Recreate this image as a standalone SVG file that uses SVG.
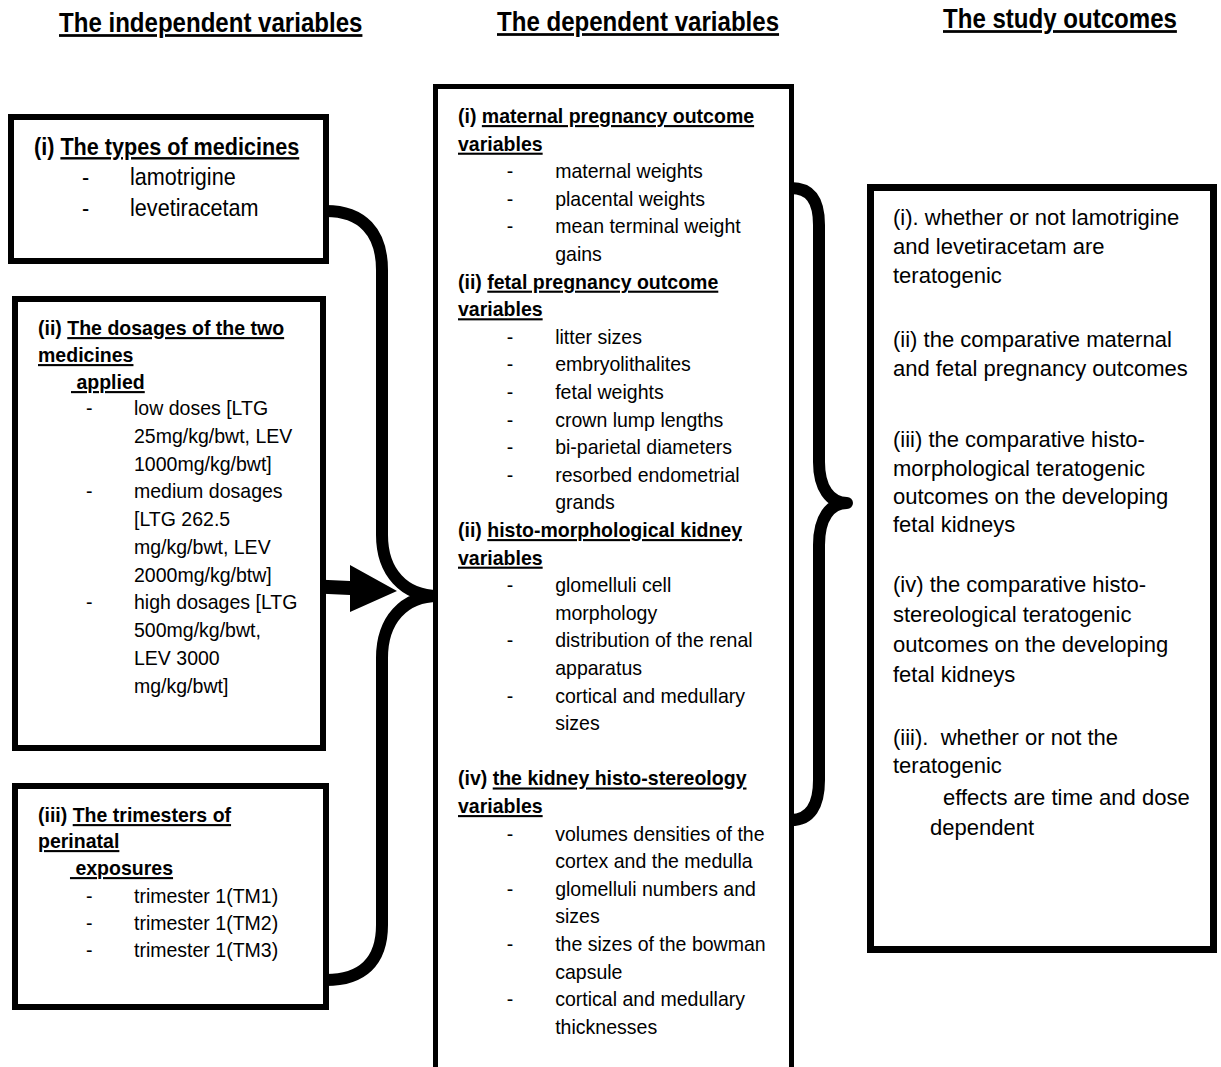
<svg xmlns="http://www.w3.org/2000/svg" width="1221" height="1067" viewBox="0 0 1221 1067">
<style>
text{font-family:"Liberation Sans",Arial,sans-serif;fill:#000}
.b{font-weight:bold}
.u{text-decoration:underline}
.title{font-size:27.5px;font-weight:bold;text-decoration:underline}
.f24{font-size:24px}
.f21{font-size:21px}
.f22{font-size:22px}
.box{fill:#fff;stroke:#000}
.brace{fill:none;stroke:#000;stroke-width:12;stroke-linejoin:round}
</style>
<rect width="1221" height="1067" fill="#fff"/>

<g id="titles">
<text class="title" transform="matrix(0.875 0 0 1 59 32)">The independent variables</text>
<text class="title" transform="matrix(0.875 0 0 1 497 31)">The dependent variables</text>
<text class="title" transform="matrix(0.875 0 0 1 943 28)">The study outcomes</text>
</g>

<g id="connectors">
<path class="brace" d="M326 211 C362 211 382 232 382 270 L382 535 C382 572 404 596 438 596 C404 596 382 620 382 658 L382 925 C382 962 362 980 326 980"/>
<path class="brace" d="M791 188 C810 188 819 200 819 225 L819 462 C819 488 830 503 847 503 C830 503 819 518 819 545 L819 780 C819 806 810 820 791 820"/>
<polygon points="306,579 350,581 350,565 397,591 350,612 350,595 306,593" fill="#000"/>
</g>

<g id="box-types">
<rect class="box" x="11" y="117" width="315" height="144" stroke-width="6"/>
<g transform="translate(34 0) scale(0.9 1)" class="f24">
<text x="0" y="155" class="b">(i) <tspan class="u">The types of medicines</tspan></text>
<text x="53.3" y="185">-</text><text x="106.7" y="185">lamotrigine</text>
<text x="53.3" y="216">-</text><text x="106.7" y="216">levetiracetam</text>
</g>
</g>

<g id="box-dosages">
<rect class="box" x="15" y="299" width="308" height="449" stroke-width="6"/>
<g transform="translate(38 0) scale(0.93 1)" class="f21">
<text x="0" y="335" class="b">(ii) <tspan class="u">The dosages of the two</tspan></text>
<text x="0" y="362" class="b u">medicines</text>
<text x="35.5" y="389" class="b u">&#160;applied</text>
<text x="51.6" y="415">-</text><text x="103.2" y="415">low doses [LTG</text>
<text x="103.2" y="443">25mg/kg/bwt, LEV</text>
<text x="103.2" y="471">1000mg/kg/bwt]</text>
<text x="51.6" y="498">-</text><text x="103.2" y="498">medium dosages</text>
<text x="103.2" y="526">[LTG 262.5</text>
<text x="103.2" y="554">mg/kg/bwt, LEV</text>
<text x="103.2" y="582">2000mg/kg/btw]</text>
<text x="51.6" y="609">-</text><text x="103.2" y="609">high dosages [LTG</text>
<text x="103.2" y="637">500mg/kg/bwt,</text>
<text x="103.2" y="665">LEV 3000</text>
<text x="103.2" y="693">mg/kg/bwt]</text>
</g>
</g>

<g id="box-trimesters">
<rect class="box" x="15" y="786" width="311" height="221" stroke-width="6"/>
<g transform="translate(38 0) scale(0.93 1)" class="f21">
<text x="0" y="822" class="b">(iii) <tspan class="u">The trimesters of</tspan></text>
<text x="0" y="848" class="b u">perinatal</text>
<text x="34.4" y="875" class="b u">&#160;exposures</text>
<text x="51.6" y="903">-</text><text x="103.2" y="903">trimester 1(TM1)</text>
<text x="51.6" y="930">-</text><text x="103.2" y="930">trimester 1(TM2)</text>
<text x="51.6" y="957">-</text><text x="103.2" y="957">trimester 1(TM3)</text>
</g>
</g>

<g id="box-dependent">
<rect class="box" x="435.5" y="86.5" width="356" height="990" stroke-width="5"/>
<g transform="translate(458 0) scale(0.93 1)" class="f21">
<text x="0" y="123" class="b">(i) <tspan class="u">maternal pregnancy outcome</tspan></text>
<text x="0" y="150.6" class="b u">variables</text>
<text x="52.5" y="178.2">-</text><text x="104.5" y="178.2">maternal weights</text>
<text x="52.5" y="205.8">-</text><text x="104.5" y="205.8">placental weights</text>
<text x="52.5" y="233.4">-</text><text x="104.5" y="233.4">mean terminal weight</text>
<text x="104.5" y="261">gains</text>
<text x="0" y="288.6" class="b">(ii) <tspan class="u">fetal pregnancy outcome</tspan></text>
<text x="0" y="316.2" class="b u">variables</text>
<text x="52.5" y="343.8">-</text><text x="104.5" y="343.8">litter sizes</text>
<text x="52.5" y="371.4">-</text><text x="104.5" y="371.4">embryolithalites</text>
<text x="52.5" y="399">-</text><text x="104.5" y="399">fetal weights</text>
<text x="52.5" y="426.6">-</text><text x="104.5" y="426.6">crown lump lengths</text>
<text x="52.5" y="454.2">-</text><text x="104.5" y="454.2">bi-parietal diameters</text>
<text x="52.5" y="481.8">-</text><text x="104.5" y="481.8">resorbed endometrial</text>
<text x="104.5" y="509.4">grands</text>
<text x="0" y="537" class="b">(ii) <tspan class="u">histo-morphological kidney</tspan></text>
<text x="0" y="564.6" class="b u">variables</text>
<text x="52.5" y="592.2">-</text><text x="104.5" y="592.2">glomelluli cell</text>
<text x="104.5" y="619.8">morphology</text>
<text x="52.5" y="647.4">-</text><text x="104.5" y="647.4">distribution of the renal</text>
<text x="104.5" y="675">apparatus</text>
<text x="52.5" y="702.6">-</text><text x="104.5" y="702.6">cortical and medullary</text>
<text x="104.5" y="730.2">sizes</text>
<text x="0" y="785.4" class="b">(iv) <tspan class="u">the kidney histo-stereology</tspan></text>
<text x="0" y="813" class="b u">variables</text>
<text x="52.5" y="840.6">-</text><text x="104.5" y="840.6">volumes densities of the</text>
<text x="104.5" y="868.2">cortex and the medulla</text>
<text x="52.5" y="895.8">-</text><text x="104.5" y="895.8">glomelluli numbers and</text>
<text x="104.5" y="923.4">sizes</text>
<text x="52.5" y="951">-</text><text x="104.5" y="951">the sizes of the bowman</text>
<text x="104.5" y="978.6">capsule</text>
<text x="52.5" y="1006.2">-</text><text x="104.5" y="1006.2">cortical and medullary</text>
<text x="104.5" y="1033.8">thicknesses</text>
</g>
</g>

<g id="box-outcomes">
<rect class="box" x="870.5" y="187.5" width="343" height="762" stroke-width="7"/>
<g class="f22">
<text x="893" y="225">(i). whether or not lamotrigine</text>
<text x="893" y="254">and levetiracetam are</text>
<text x="893" y="283">teratogenic</text>
<text x="893" y="347">(ii) the comparative maternal</text>
<text x="893" y="376">and fetal pregnancy outcomes</text>
<text x="893" y="447">(iii) the comparative histo-</text>
<text x="893" y="476">morphological teratogenic</text>
<text x="893" y="504">outcomes on the developing</text>
<text x="893" y="532">fetal kidneys</text>
<text x="893" y="592">(iv) the comparative histo-</text>
<text x="893" y="622">stereological teratogenic</text>
<text x="893" y="652">outcomes on the developing</text>
<text x="893" y="682">fetal kidneys</text>
<text x="893" y="745" xml:space="preserve">(iii).  whether or not the</text>
<text x="893" y="773">teratogenic</text>
<text x="943" y="805">effects are time and dose</text>
<text x="930" y="835">dependent</text>
</g>
</g>
</svg>
